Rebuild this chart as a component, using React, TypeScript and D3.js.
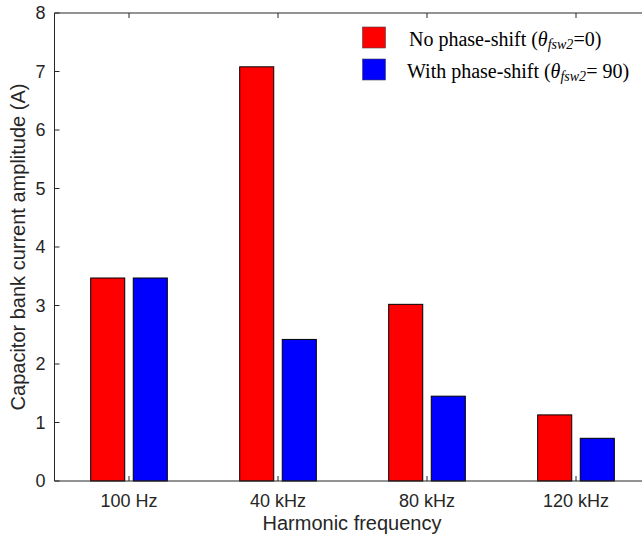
import React, { useRef, useEffect } from 'react';
import * as d3 from 'd3';

const categories = ['100 Hz', '40 kHz', '80 kHz', '120 kHz'];
const noShift = [3.47, 7.08, 3.02, 1.13];
const withShift = [3.47, 2.42, 1.45, 0.73];
const yTicks = [0, 1, 2, 3, 4, 5, 6, 7, 8];

const App = () => {
    const ref = useRef<SVGSVGElement>(null);

    useEffect(() => {
        const width = 642;
        const height = 540;
        const left = 54.5, right = 650.5, top = 13, bottom = 481;
        const axisColor = '#262626';
        const sans = 'Liberation Sans, Arial, sans-serif';
        const serif = 'Liberation Serif, Times New Roman, serif';

        const svg = d3.select(ref.current)
            .attr('width', width)
            .attr('height', height);
        svg.selectAll('*').remove();

        const x = d3.scaleLinear().domain([0.5, 4.5]).range([left, right]);
        const y = d3.scaleLinear().domain([0, 8]).range([bottom, top]);

        // grouped bar geometry (MATLAB style, 2 series)
        const barW = 0.2286;
        const offset = 0.1429;
        const series = [
            { values: noShift, color: '#ff0000', dx: -offset },
            { values: withShift, color: '#0000ff', dx: offset },
        ];

        series.forEach(s => {
            svg.append('g')
                .selectAll('rect')
                .data(s.values)
                .join('rect')
                .attr('x', (d, i) => x(i + 1 + s.dx - barW / 2))
                .attr('y', d => y(d))
                .attr('width', x(barW) - x(0))
                .attr('height', d => y(0) - y(d))
                .attr('fill', s.color)
                .attr('stroke', '#000')
                .attr('stroke-width', 1);
        });

        // axes box
        svg.append('path')
            .attr('d', `M${right},${top}H${left}V${bottom}H${right}`)
            .attr('fill', 'none')
            .attr('stroke', axisColor)
            .attr('stroke-width', 1);

        // y ticks
        const yg = svg.append('g');
        yg.selectAll('line')
            .data(yTicks)
            .join('line')
            .attr('x1', left).attr('x2', left + 5)
            .attr('y1', d => y(d)).attr('y2', d => y(d))
            .attr('stroke', axisColor);
        yg.selectAll('text')
            .data(yTicks)
            .join('text')
            .attr('x', left - 9)
            .attr('y', d => y(d))
            .attr('dy', '0.36em')
            .attr('text-anchor', 'end')
            .attr('font-family', sans)
            .attr('font-size', 18)
            .attr('fill', axisColor)
            .text(d => d);

        // x ticks
        const xg = svg.append('g');
        xg.selectAll('line.b')
            .data(categories)
            .join('line')
            .attr('class', 'b')
            .attr('x1', (d, i) => x(i + 1)).attr('x2', (d, i) => x(i + 1))
            .attr('y1', bottom).attr('y2', bottom - 5)
            .attr('stroke', axisColor);
        xg.selectAll('line.t')
            .data(categories)
            .join('line')
            .attr('class', 't')
            .attr('x1', (d, i) => x(i + 1)).attr('x2', (d, i) => x(i + 1))
            .attr('y1', top).attr('y2', top + 5)
            .attr('stroke', axisColor);
        xg.selectAll('text')
            .data(categories)
            .join('text')
            .attr('x', (d, i) => x(i + 1))
            .attr('y', bottom + 26)
            .attr('text-anchor', 'middle')
            .attr('font-family', sans)
            .attr('font-size', 18)
            .attr('fill', axisColor)
            .text(d => d);

        svg.append('text')
            .attr('x', 352)
            .attr('y', 530)
            .attr('text-anchor', 'middle')
            .attr('font-family', sans)
            .attr('font-size', 20)
            .attr('fill', axisColor)
            .text('Harmonic frequency');

        svg.append('text')
            .attr('transform', `translate(25,${(top + bottom) / 2}) rotate(-90)`)
            .attr('text-anchor', 'middle')
            .attr('font-family', sans)
            .attr('font-size', 20)
            .attr('fill', axisColor)
            .text('Capacitor bank current amplitude (A)');

        // legend
        const legend = [
            { label: 'No phase-shift (', tail: '=0)', color: '#ff0000', y: 27, tx: 409 },
            { label: 'With phase-shift (', tail: '= 90)', color: '#0000ff', y: 59, tx: 407 },
        ];
        legend.forEach(l => {
            svg.append('rect')
                .attr('x', 362.5).attr('y', l.y)
                .attr('width', 23).attr('height', 21)
                .attr('fill', l.color)
                .attr('stroke', '#444').attr('stroke-width', 0.6);
            const t = svg.append('text')
                .attr('x', l.tx)
                .attr('y', l.y + 19)
                .attr('font-family', serif)
                .attr('font-size', 20)
                .attr('fill', '#000');
            t.append('tspan').text(l.label);
            t.append('tspan').attr('font-style', 'italic').text('θ');
            t.append('tspan').attr('font-style', 'italic').attr('font-size', 14)
                .attr('dy', 3).text('fsw2');
            t.append('tspan').attr('dy', -3).text(l.tail);
        });
    }, []);

    return (
        <svg ref={ref} style={{ position: 'absolute', left: 0, top: 0, background: '#fff' }}></svg>
    );
};

export default App;
